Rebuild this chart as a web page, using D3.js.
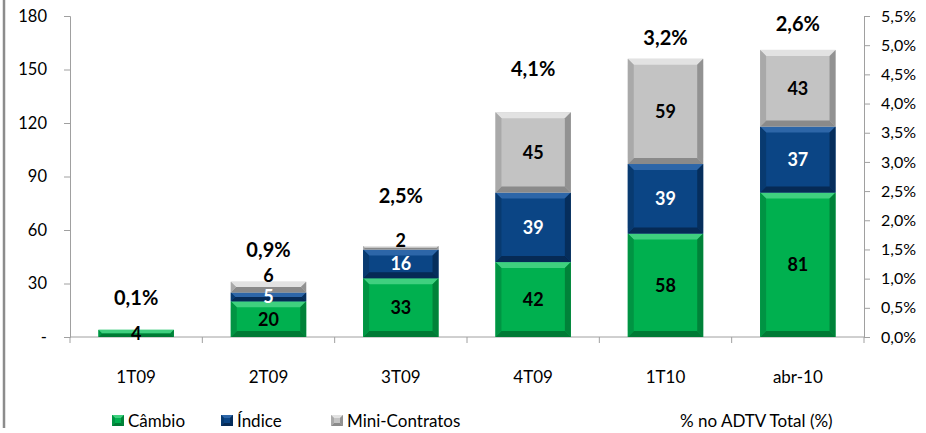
<!DOCTYPE html>
<html><head><meta charset="utf-8">
<script src="https://cdn.jsdelivr.net/npm/d3@7"></script>
<style>
body{margin:0;background:#fff;}
svg{display:block;font-family:Lato,"Open Sans",sans-serif;}
</style></head>
<body><svg id="c" width="926" height="433"></svg>
<script>
const categories = ["1T09","2T09","3T09","4T09","1T10","abr-10"];
const cambio = [4,20,33,42,58,81];
const indice = [0,5,16,39,39,37];
const mini = [0,6,2,45,59,43];
const adtvPct = ["0,1%","0,9%","2,5%","4,1%","3,2%","2,6%"];
const leftTicks = [0,30,60,90,120,150,180];
const rightTicks = [0,0.5,1,1.5,2,2.5,3,3.5,4,4.5,5,5.5];
const seriesNames = ["Câmbio","Índice","Mini-Contratos"];
const seriesData = [cambio, indice, mini];

// layout only: how far above each bar top the % label sits (px)
const pctLift = [25,25,43,36,14,19];

const svg = d3.select("#c");
const L = 70, R = 864, T = 16, B = 337;
const font = 'Lato,"Open Sans",sans-serif';

const x = d3.scaleBand().domain(categories).range([L, R]).paddingInner(0.43).paddingOuter(0.215);
const xb = d3.scaleBand().domain(categories).range([L, R]);
const y = d3.scaleLinear().domain([0,180]).range([B, T]);
const y2 = d3.scaleLinear().domain([0,5.5]).range([B, T]);

const colors = [
  {base:"#00b04f", light:"#3fd07f", dark:"#007a35", side:"#009443"},
  {base:"#0b4585", light:"#2d66a8", dark:"#062a55", side:"#083a70"},
  {base:"#c3c3c3", light:"#e2e2e2", dark:"#8a8a8a", side:"#a9a9a9"}
];

// frame line
svg.append("line").attr("x1",4).attr("x2",4).attr("y1",0).attr("y2",428)
  .attr("stroke","#8c8c8c").attr("stroke-width",2.5);

// left axis
const ga = svg.append("g").attr("transform",`translate(${L},0)`)
  .call(d3.axisLeft(y).tickValues(leftTicks).tickSize(6).tickFormat(d=> d===0?"-":d));
ga.select(".domain").attr("stroke","#a0a0a0");
ga.selectAll(".tick line").attr("stroke","#a0a0a0");
ga.selectAll(".tick text").attr("font-family",font).attr("font-size",16.5).attr("fill","#000")
  .attr("x",-23).attr("text-anchor","end");

// right axis
const gr = svg.append("g").attr("transform",`translate(${R},0)`)
  .call(d3.axisRight(y2).tickValues(rightTicks).tickSize(6).tickFormat(d=> d.toFixed(1).replace(".",",")+"%"));
gr.select(".domain").attr("stroke","#a0a0a0");
gr.selectAll(".tick line").attr("stroke","#a0a0a0");
gr.selectAll(".tick text").attr("font-family",font).attr("font-size",16).attr("fill","#000").attr("x",17);

// x axis
const gx = svg.append("g").attr("transform",`translate(0,${B})`);
gx.append("line").attr("x1",L).attr("x2",R).attr("stroke","#a0a0a0");
gx.selectAll("line.t").data(d3.range(categories.length+1)).enter().append("line")
  .attr("x1",i=>L+i*xb.step()).attr("x2",i=>L+i*xb.step()).attr("y1",0).attr("y2",6).attr("stroke","#a0a0a0");
gx.selectAll("text").data(categories).enter().append("text")
  .attr("x",d=>xb(d)+xb.bandwidth()/2).attr("y",46).attr("text-anchor","middle")
  .attr("font-family",font).attr("font-size",17).text(d=>d);

// bars
function bevel(g, x0, y0, w, h, c, bw){
  const b = Math.min(bw||6, h/2, w/2);
  g.append("rect").attr("x",x0).attr("y",y0).attr("width",w).attr("height",h).attr("fill",c.base);
  if(h<=0) return;
  const x1 = x0+w, y1 = y0+h;
  g.append("polygon").attr("points",[[x0,y0],[x1,y0],[x1-b,y0+b],[x0+b,y0+b]].join(" ")).attr("fill",c.light);
  g.append("polygon").attr("points",[[x0,y1],[x1,y1],[x1-b,y1-b],[x0+b,y1-b]].join(" ")).attr("fill",c.dark);
  g.append("polygon").attr("points",[[x0,y0],[x0+b,y0+b],[x0+b,y1-b],[x0,y1]].join(" ")).attr("fill",c.side);
  g.append("polygon").attr("points",[[x1,y0],[x1-b,y0+b],[x1-b,y1-b],[x1,y1]].join(" ")).attr("fill",c.dark).attr("opacity",0.85);
}
const gb = svg.append("g");
const gl = svg.append("g");
categories.forEach((cat,i)=>{
  let acc = 0;
  seriesData.forEach((s,k)=>{
    const v = s[i];
    if(v>0){
      const yTop = y(acc+v), yBot = y(acc);
      bevel(gb, x(cat), yTop, x.bandwidth(), yBot-yTop, colors[k]);
      let cy = (yTop+yBot)/2;
      if(k===2 && yBot-yTop<14) cy = yTop - 6;
      gl.append("text").attr("x",x(cat)+x.bandwidth()/2).attr("y",cy).attr("dy","0.36em")
        .attr("text-anchor","middle").attr("font-family",font).attr("font-weight","bold")
        .attr("font-size",18).attr("fill",k===1?"#fff":"#000").text(v);
    }
    acc += v;
  });
  const total = cambio[i]+indice[i]+mini[i];
  gl.append("text").attr("x",x(cat)+x.bandwidth()/2).attr("y",y(total)-pctLift[i])
    .attr("text-anchor","middle").attr("font-family",font).attr("font-weight","bold")
    .attr("font-size",20).attr("fill","#000").text(adtvPct[i]);
});

// legend
const legX = [112, 221, 331];
seriesNames.forEach((n,k)=>{
  const g = svg.append("g");
  bevel(g, legX[k], 415, 12, 11, colors[k], 3);
  g.append("text").attr("x",legX[k]+16).attr("y",427).attr("font-family",font).attr("font-size",17).text(n);
});
svg.append("text").attr("x",680).attr("y",427).attr("font-family",font).attr("font-size",17).text("% no ADTV Total (%)");
</script></body></html>
